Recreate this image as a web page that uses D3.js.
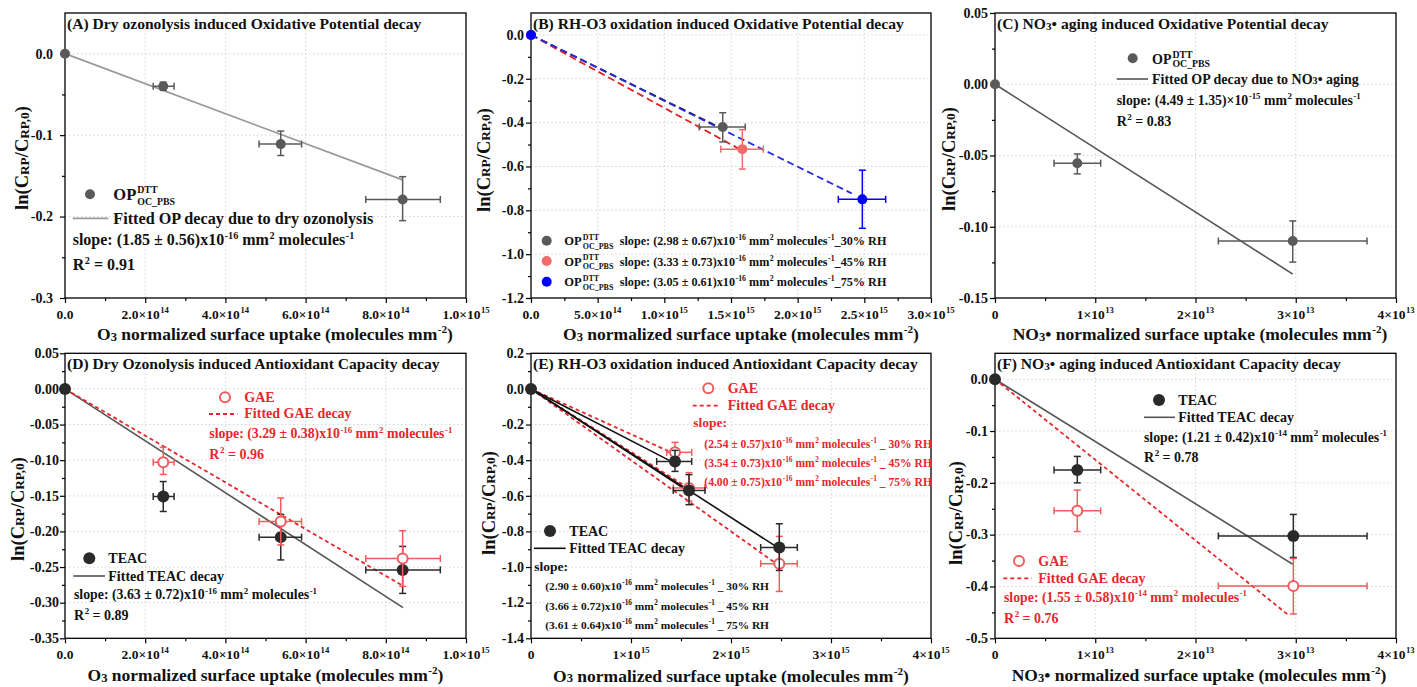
<!DOCTYPE html>
<html><head><meta charset="utf-8">
<script src="https://cdn.jsdelivr.net/npm/d3@7"></script>
<style>
body{margin:0;background:#fff}
text{font-family:'Liberation Serif','Times New Roman',serif;font-weight:bold}
</style>
</head><body>
<svg id="chart" width="1417" height="687"></svg>
<script>
// ---------------- DATA ----------------
// Panel A: dry ozonolysis, OP (DTT)
const A_x    = [0, 2.45e14, 5.38e14, 8.42e14];
const A_y    = [0, -0.040, -0.111, -0.179];
const A_xlo  = [null, 2.20e14, 4.84e14, 7.50e14];
const A_xhi  = [null, 2.72e14, 5.90e14, 9.36e14];
const A_ylo  = [null, -0.045, -0.125, -0.205];
const A_yhi  = [null, -0.035, -0.095, -0.151];
const A_fitEndX = [8.42e14];
const A_fitEndY = [-0.155];
const A_xTicks = [0, 2e14, 4e14, 6e14, 8e14, 1e15];
const A_xTickLabels = ["0.0", "2.0×10^{14}", "4.0×10^{14}", "6.0×10^{14}", "8.0×10^{14}", "1.0×10^{15}"];
const A_yTicks = [-0.3, -0.2, -0.1, 0.0];
const A_yTickLabels = ["-0.3", "-0.2", "-0.1", "0.0"];

// Panel B: RH-O3 oxidation, OP (DTT) at 30/45/75 % RH
const B_x30 = [0, 1.438e15]; const B_y30 = [0, -0.420];
const B_xlo30 = [null, 1.262e15]; const B_xhi30 = [null, 1.607e15];
const B_ylo30 = [null, -0.488]; const B_yhi30 = [null, -0.355];
const B_x45 = [0, 1.585e15]; const B_y45 = [0, -0.521];
const B_xlo45 = [null, 1.423e15]; const B_xhi45 = [null, 1.742e15];
const B_ylo45 = [null, -0.612]; const B_yhi45 = [null, -0.432];
const B_x75 = [0, 2.485e15]; const B_y75 = [0, -0.750];
const B_xlo75 = [null, 2.305e15]; const B_xhi75 = [null, 2.660e15];
const B_ylo75 = [null, -0.882]; const B_yhi75 = [null, -0.617];
const B_fitEndX = [1.438e15, 1.585e15, 2.405e15];
const B_fitEndY = [-0.429, -0.528, -0.723];
const B_xTicks = [0, 5e14, 1e15, 1.5e15, 2e15, 2.5e15, 3e15];
const B_xTickLabels = ["0.0", "5.0×10^{14}", "1.0×10^{15}", "1.5×10^{15}", "2.0×10^{15}", "2.5×10^{15}", "3.0×10^{15}"];
const B_yTicks = [-1.2, -1.0, -0.8, -0.6, -0.4, -0.2, 0.0];
const B_yTickLabels = ["-1.2", "-1.0", "-0.8", "-0.6", "-0.4", "-0.2", "0.0"];

// Panel C: NO3 aging, OP (DTT)
const C_x   = [0, 8.21e12, 2.97e13];
const C_y   = [0, -0.0554, -0.110];
const C_xlo = [null, 5.89e12, 2.228e13];
const C_xhi = [null, 1.054e13, 3.711e13];
const C_ylo = [null, -0.0629, -0.1248];
const C_yhi = [null, -0.0489, -0.0959];
const C_fitEndX = [2.97e13];
const C_fitEndY = [-0.1332];
const C_xTicks = [0, 1e13, 2e13, 3e13, 4e13];
const C_xTickLabels = ["0", "1×10^{13}", "2×10^{13}", "3×10^{13}", "4×10^{13}"];
const C_yTicks = [-0.15, -0.10, -0.05, 0.00, 0.05];
const C_yTickLabels = ["-0.15", "-0.10", "-0.05", "0.00", "0.05"];

// Panel D: dry ozonolysis, antioxidant capacity
const D_teacX = [0, 2.45e14, 5.38e14, 8.42e14];
const D_teacY = [0, -0.151, -0.208, -0.254];
const D_teacYlo = [null, -0.172, -0.240, -0.287];
const D_teacYhi = [null, -0.130, -0.176, -0.221];
const D_gaeX = [2.45e14, 5.38e14, 8.42e14];
const D_gaeY = [-0.103, -0.186, -0.238];
const D_gaeYlo = [-0.120, -0.219, -0.277];
const D_gaeYhi = [-0.082, -0.153, -0.199];
const D_xlo = [null, 2.20e14, 4.84e14, 7.50e14];
const D_xhi = [null, 2.72e14, 5.90e14, 9.36e14];
const D_teacFitEndX = [8.43e14]; const D_teacFitEndY = [-0.307];
const D_gaeFitEndX  = [8.43e14]; const D_gaeFitEndY  = [-0.2765];
const D_yTicks = [-0.35, -0.30, -0.25, -0.20, -0.15, -0.10, -0.05, 0.00, 0.05];
const D_yTickLabels = ["-0.35", "-0.30", "-0.25", "-0.20", "-0.15", "-0.10", "-0.05", "0.00", "0.05"];

// Panel E: RH-O3 oxidation, antioxidant capacity
const E_teacX = [0, 1.44e15, 1.58e15, 2.483e15];
const E_teacY = [0, -0.407, -0.570, -0.890];
const E_teacYlo = [null, -0.463, -0.650, -1.019];
const E_teacYhi = [null, -0.345, -0.481, -0.757];
const E_teacXlo = [null, 1.257e15, 1.423e15, 2.297e15];
const E_teacXhi = [null, 1.607e15, 1.740e15, 2.663e15];
const E_gaeX = [1.44e15, 1.58e15, 2.483e15];
const E_gaeY = [-0.356, -0.556, -0.981];
const E_gaeYlo = [-0.415, -0.630, -1.137];
const E_gaeYhi = [-0.300, -0.470, -0.828];
const E_gaeXlo = [1.357e15, 1.423e15, 2.297e15];
const E_gaeXhi = [1.607e15, 1.740e15, 2.663e15];
const E_teacFitEndX = [1.44e15, 1.58e15, 2.48e15];
const E_teacFitEndY = [-0.418, -0.578, -0.895];
const E_gaeFitEndX  = [1.44e15, 1.58e15, 2.48e15];
const E_gaeFitEndY  = [-0.366, -0.559, -0.992];
const E_xTicks = [0, 1e15, 2e15, 3e15, 4e15];
const E_xTickLabels = ["0", "1×10^{15}", "2×10^{15}", "3×10^{15}", "4×10^{15}"];
const E_yTicks = [-1.4, -1.2, -1.0, -0.8, -0.6, -0.4, -0.2, 0.0, 0.2];
const E_yTickLabels = ["-1.4", "-1.2", "-1.0", "-0.8", "-0.6", "-0.4", "-0.2", "0.0", "0.2"];

// Panel F: NO3 aging, antioxidant capacity
const F_teacX = [0, 8.21e12, 2.976e13];
const F_teacY = [0, -0.175, -0.3025];
const F_teacYlo = [null, -0.200, -0.344];
const F_teacYhi = [null, -0.149, -0.261];
const F_gaeX = [8.21e12, 2.976e13];
const F_gaeY = [-0.254, -0.399];
const F_gaeYlo = [-0.294, -0.453];
const F_gaeYhi = [-0.214, -0.346];
const F_xlo = [null, 5.89e12, 2.228e13];
const F_xhi = [null, 1.054e13, 3.711e13];
const F_teacFitEndX = [2.97e13];  const F_teacFitEndY = [-0.357];
const F_gaeFitEndX  = [2.926e13]; const F_gaeFitEndY  = [-0.455];
const F_yTicks = [-0.5, -0.4, -0.3, -0.2, -0.1, 0.0];
const F_yTickLabels = ["-0.5", "-0.4", "-0.3", "-0.2", "-0.1", "0.0"];

// ---------------- HELPERS ----------------
const svg = d3.select('#chart');
svg.append('rect').attr('width', 1417).attr('height', 687).attr('fill', '#fff');

function parseRich(s) {
  const parts = []; let buf = ''; let i = 0;
  const flush = () => { if (buf) { parts.push({type: 'n', t: buf}); buf = ''; } };
  while (i < s.length) {
    const c = s[i];
    if ((c === '^' || c === '_' || c === '~') && s[i + 1] === '{') {
      const j = s.indexOf('}', i + 2);
      flush();
      parts.push({type: c === '^' ? 'sup' : c === '_' ? 'sub' : 'small', t: s.slice(i + 2, j)});
      i = j + 1;
    } else { buf += c; i++; }
  }
  flush();
  const out = [];
  for (let k = 0; k < parts.length; k++) {
    if (parts[k].type === 'sup' && parts[k + 1] && parts[k + 1].type === 'sub') {
      out.push({type: 'stack', sup: parts[k].t, sub: parts[k + 1].t}); k++;
    } else out.push(parts[k]);
  }
  return out;
}

function rich(parent, x, y, s, opt) {
  const size = opt.size, color = opt.color || '#111';
  const sr = opt.stack || 0.6;
  const g = parent.append('g');
  let cx = 0;
  const add = (t, dx, dy, fs) => {
    const el = g.append('text').attr('x', cx + dx).attr('y', dy).attr('font-size', fs)
      .attr('fill', color).attr('xml:space', 'preserve').style('white-space', 'pre').text(t);
    return el.node().getComputedTextLength();
  };
  for (const p of parseRich(s)) {
    if (p.type === 'n') cx += add(p.t, 0, 0, size);
    else if (p.type === 'sup') cx += add(p.t, 0.5, -size * 0.4, size * 0.64) + 0.5;
    else if (p.type === 'sub') cx += add(p.t, 0.5, size * 0.22, size * 0.64) + 0.5;
    else if (p.type === 'small') cx += add(p.t, 0, size * 0.05, size * 0.72);
    else {
      const w1 = add(p.sup, 1, -size * 0.42, size * sr);
      const w2 = add(p.sub, 1, size * 0.28, size * sr);
      cx += Math.max(w1, w2) + 1;
    }
  }
  let ox = 0;
  if (opt.anchor === 'middle') ox = -cx / 2; else if (opt.anchor === 'end') ox = -cx;
  const rot = opt.rotate ? ` rotate(${opt.rotate})` : '';
  g.attr('transform', `translate(${x},${y})${rot} translate(${ox},0)`);
  return cx;
}

const mid = arr => arr.slice(1).map((v, i) => (v + arr[i]) / 2);
const lineGen = d3.line();

function drawPanel(p) {
  const x = d3.scaleLinear().domain(p.xDomain).range([p.l, p.r]);
  const y = d3.scaleLinear().domain(p.yDomain).range([p.b, p.t]);
  const g = svg.append('g');
  // grid
  g.selectAll(null).data(p.xTicks.filter(v => v > p.xDomain[0] && v < p.xDomain[1])).join('line')
    .attr('x1', d => x(d)).attr('x2', d => x(d)).attr('y1', p.t).attr('y2', p.b)
    .attr('stroke', '#d4d4d4').attr('stroke-width', 1).attr('stroke-dasharray', '1.5,2.5');
  g.selectAll(null).data(p.yTicks.filter(v => v > p.yDomain[0] + 1e-9 && v < p.yDomain[1] - 1e-9)).join('line')
    .attr('y1', d => y(d)).attr('y2', d => y(d)).attr('x1', p.l).attr('x2', p.r)
    .attr('stroke', '#d4d4d4').attr('stroke-width', 1).attr('stroke-dasharray', '1.5,2.5');
  // axes ticks
  const styleAxis = a => { a.select('.domain').remove(); a.selectAll('line').attr('stroke', '#000').attr('stroke-width', 1.2); };
  g.append('g').attr('transform', `translate(0,${p.b})`)
    .call(d3.axisBottom(x).tickValues(p.xTicks).tickSize(5).tickFormat('')).call(styleAxis);
  g.append('g').attr('transform', `translate(0,${p.b})`)
    .call(d3.axisBottom(x).tickValues(mid(p.xTicks)).tickSize(3).tickFormat('')).call(styleAxis);
  g.append('g').attr('transform', `translate(${p.l},0)`)
    .call(d3.axisLeft(y).tickValues(p.yTicks).tickSize(5).tickFormat('')).call(styleAxis);
  g.append('g').attr('transform', `translate(${p.l},0)`)
    .call(d3.axisLeft(y).tickValues(mid(p.yTicks)).tickSize(3).tickFormat('')).call(styleAxis);
  // frame
  g.append('rect').attr('x', p.l).attr('y', p.t).attr('width', p.r - p.l).attr('height', p.b - p.t)
    .attr('fill', 'none').attr('stroke', '#000').attr('stroke-width', 1.3);
  // tick labels
  p.xTicks.forEach((v, i) => rich(g, x(v), p.xTickBase, p.xTickLabels[i], {size: 13.5, anchor: 'middle'}));
  p.yTicks.forEach((v, i) => { if (p.yTickLabels[i]) rich(g, p.l - p.yGap, y(v) + 4.8, p.yTickLabels[i], {size: 14, anchor: 'end'}); });
  // fit lines
  p.fits.forEach(f => {
    f.endX.forEach((ex, i) => {
      g.append('path').attr('d', lineGen([[x(0), y(0)], [x(ex), y(f.endY[i])]]))
        .attr('fill', 'none').attr('stroke', f.color).attr('stroke-width', f.width || 1.6)
        .attr('stroke-dasharray', f.dash || null);
    });
  });
  // series
  p.series.forEach(s => {
    const eg = g.append('g').attr('stroke', s.ecolor || s.color).attr('stroke-width', 1.5).attr('fill', 'none');
    s.x.forEach((xv, i) => {
      const cy = y(s.y[i]), cx = x(xv);
      if (s.xlo && s.xlo[i] != null) {
        const a = x(s.xlo[i]), b = x(s.xhi[i]);
        eg.append('line').attr('x1', a).attr('x2', b).attr('y1', cy).attr('y2', cy);
        eg.append('line').attr('x1', a).attr('x2', a).attr('y1', cy - 3.5).attr('y2', cy + 3.5);
        eg.append('line').attr('x1', b).attr('x2', b).attr('y1', cy - 3.5).attr('y2', cy + 3.5);
      }
      if (s.ylo && s.ylo[i] != null) {
        const a = y(s.ylo[i]), b = y(s.yhi[i]);
        eg.append('line').attr('x1', cx).attr('x2', cx).attr('y1', a).attr('y2', b);
        eg.append('line').attr('x1', cx - 3.5).attr('x2', cx + 3.5).attr('y1', a).attr('y2', a);
        eg.append('line').attr('x1', cx - 3.5).attr('x2', cx + 3.5).attr('y1', b).attr('y2', b);
      }
    });
    g.selectAll(null).data(s.x.map((xv, i) => [xv, s.y[i]])).join('circle')
      .attr('cx', d => x(d[0])).attr('cy', d => y(d[1])).attr('r', s.r || 5)
      .attr('fill', s.open ? '#fff' : s.color)
      .attr('stroke', s.open ? s.color : 'none').attr('stroke-width', s.open ? 2 : 0);
  });
  // title and labels
  rich(g, p.l + 2, p.t + 16, p.title, {size: 15.6});
  rich(g, p.xLabelX, p.xLabelBase, p.xLabel, {size: 17.5, anchor: 'middle'});
  rich(g, p.yLabelX, p.yLabelY, "ln(C~{RP}/C~{RP,0})", {size: 18.5, anchor: 'middle', rotate: -90});
  return {x, y, g};
}

const O3LABEL = "O~{3} normalized surface uptake (molecules mm^{-2})";
const NO3LABEL = "NO~{3}• normalized surface uptake (molecules mm^{-2})";
const GRAY = '#5a5a5a', DARK = '#2a2a2a', RED = '#e8262b', LRED = '#f25c5c', BLUE = '#0000ff';
const OPS = "OP^{DTT}_{OC_PBS}";

// ---------------- PANELS ----------------
drawPanel({
  l: 65, r: 466, t: 13, b: 298, xDomain: [0, 1e15], yDomain: [-0.3, 0.05],
  xTicks: A_xTicks, xTickLabels: A_xTickLabels, yTicks: A_yTicks, yTickLabels: A_yTickLabels,
  xTickBase: 318.5, yGap: 12, title: "(A) Dry ozonolysis induced Oxidative Potential decay",
  xLabel: O3LABEL, xLabelX: 275, xLabelBase: 340, yLabelX: 28, yLabelY: 158,
  fits: [{endX: A_fitEndX, endY: A_fitEndY, color: '#9a9a9a', width: 1.8}],
  series: [{x: A_x, y: A_y, xlo: A_xlo, xhi: A_xhi, ylo: A_ylo, yhi: A_yhi, color: GRAY, r: 5}]
});
drawPanel({
  l: 531, r: 931, t: 13, b: 298, xDomain: [0, 3e15], yDomain: [-1.2, 0.1],
  xTicks: B_xTicks, xTickLabels: B_xTickLabels, yTicks: B_yTicks, yTickLabels: B_yTickLabels,
  xTickBase: 318.5, yGap: 7, title: "(B) RH-O3 oxidation induced Oxidative Potential decay",
  xLabel: O3LABEL, xLabelX: 741, xLabelBase: 340, yLabelX: 489.5, yLabelY: 160,
  fits: [
    {endX: [B_fitEndX[0]], endY: [B_fitEndY[0]], color: '#111', dash: '7,4', width: 1.8},
    {endX: [B_fitEndX[1]], endY: [B_fitEndY[1]], color: '#e02020', dash: '7,4', width: 1.8},
    {endX: [B_fitEndX[2]], endY: [B_fitEndY[2]], color: '#2a2ae0', dash: '7,4', width: 1.8}],
  series: [
    {x: B_x30, y: B_y30, xlo: B_xlo30, xhi: B_xhi30, ylo: B_ylo30, yhi: B_yhi30, color: GRAY, r: 5},
    {x: B_x45, y: B_y45, xlo: B_xlo45, xhi: B_xhi45, ylo: B_ylo45, yhi: B_yhi45, color: '#f26a6a', r: 5},
    {x: B_x75, y: B_y75, xlo: B_xlo75, xhi: B_xhi75, ylo: B_ylo75, yhi: B_yhi75, color: BLUE, r: 5}]
});
drawPanel({
  l: 995, r: 1396, t: 13, b: 298, xDomain: [0, 4e13], yDomain: [-0.15, 0.05],
  xTicks: C_xTicks, xTickLabels: C_xTickLabels, yTicks: C_yTicks, yTickLabels: C_yTickLabels,
  xTickBase: 318.5, yGap: 7, title: "(C) NO~{3}• aging induced Oxidative Potential decay",
  xLabel: NO3LABEL, xLabelX: 1200, xLabelBase: 340, yLabelX: 954.5, yLabelY: 159,
  fits: [{endX: C_fitEndX, endY: C_fitEndY, color: '#555', width: 1.6}],
  series: [{x: C_x, y: C_y, xlo: C_xlo, xhi: C_xhi, ylo: C_ylo, yhi: C_yhi, color: GRAY, r: 5}]
});
drawPanel({
  l: 65, r: 466, t: 353.3, b: 638.3, xDomain: [0, 1e15], yDomain: [-0.35, 0.05],
  xTicks: A_xTicks, xTickLabels: A_xTickLabels, yTicks: D_yTicks, yTickLabels: D_yTickLabels,
  xTickBase: 658.5, yGap: 6, title: "(D) Dry Ozonolysis induced Antioxidant Capacity decay",
  xLabel: O3LABEL, xLabelX: 265.5, xLabelBase: 681, yLabelX: 23.5, yLabelY: 509,
  fits: [{endX: D_teacFitEndX, endY: D_teacFitEndY, color: '#555', width: 1.6},
         {endX: D_gaeFitEndX, endY: D_gaeFitEndY, color: RED, dash: '4,3', width: 1.8}],
  series: [
    {x: D_teacX, y: D_teacY, xlo: D_xlo, xhi: D_xhi, ylo: D_teacYlo, yhi: D_teacYhi, color: DARK, r: 6},
    {x: D_gaeX, y: D_gaeY, xlo: D_xlo.slice(1), xhi: D_xhi.slice(1), ylo: D_gaeYlo, yhi: D_gaeYhi, color: LRED, open: true, r: 5}]
});
drawPanel({
  l: 531, r: 931, t: 353.3, b: 638.3, xDomain: [0, 4e15], yDomain: [-1.4, 0.2],
  xTicks: E_xTicks, xTickLabels: E_xTickLabels, yTicks: E_yTicks, yTickLabels: E_yTickLabels,
  xTickBase: 658.5, yGap: 7, title: "(E) RH-O3 oxidation induced Antioxidant Capacity decay",
  xLabel: O3LABEL, xLabelX: 731, xLabelBase: 681.5, yLabelX: 494.5, yLabelY: 503,
  fits: [{endX: E_gaeFitEndX, endY: E_gaeFitEndY, color: RED, dash: '4,3', width: 1.8},
         {endX: E_teacFitEndX, endY: E_teacFitEndY, color: '#111', width: 1.6}],
  series: [
    {x: E_gaeX, y: E_gaeY, xlo: E_gaeXlo, xhi: E_gaeXhi, ylo: E_gaeYlo, yhi: E_gaeYhi, color: LRED, open: true, r: 5},
    {x: E_teacX, y: E_teacY, xlo: E_teacXlo, xhi: E_teacXhi, ylo: E_teacYlo, yhi: E_teacYhi, color: DARK, r: 6}]
});
drawPanel({
  l: 995, r: 1396, t: 353.3, b: 638.3, xDomain: [0, 4e13], yDomain: [-0.5, 0.05],
  xTicks: C_xTicks, xTickLabels: C_xTickLabels, yTicks: F_yTicks, yTickLabels: F_yTickLabels,
  xTickBase: 658.5, yGap: 7, title: "(F) NO~{3}• aging induced Antioxidant Capacity decay",
  xLabel: NO3LABEL, xLabelX: 1199, xLabelBase: 681, yLabelX: 962, yLabelY: 513,
  fits: [{endX: F_teacFitEndX, endY: F_teacFitEndY, color: '#555', width: 1.6},
         {endX: F_gaeFitEndX, endY: F_gaeFitEndY, color: RED, dash: '4,3', width: 1.8}],
  series: [
    {x: F_teacX, y: F_teacY, xlo: F_xlo, xhi: F_xhi, ylo: F_teacYlo, yhi: F_teacYhi, color: DARK, r: 6},
    {x: F_gaeX, y: F_gaeY, xlo: F_xlo.slice(1), xhi: F_xhi.slice(1), ylo: F_gaeYlo, yhi: F_gaeYhi, color: LRED, open: true, r: 5}]
});

// ---------------- LEGENDS ----------------
const L = svg.append('g');
function dot(x, y, color, r, open) {
  L.append('circle').attr('cx', x).attr('cy', y).attr('r', r)
    .attr('fill', open ? '#fff' : color).attr('stroke', open ? color : 'none').attr('stroke-width', open ? 2 : 0);
}
function seg(x1, x2, y, color, dash, w) {
  L.append('line').attr('x1', x1).attr('x2', x2).attr('y1', y).attr('y2', y)
    .attr('stroke', color).attr('stroke-width', w || 1.6).attr('stroke-dasharray', dash || null);
}
// A
dot(90, 194.3, GRAY, 5);
rich(L, 113.3, 200, OPS, {size: 16.5, stack: 0.6});
seg(72.7, 108.3, 218.3, '#9a9a9a', null, 1.8);
rich(L, 113.3, 223.5, "Fitted OP decay due to dry ozonolysis", {size: 16.2});
rich(L, 72.7, 245, "slope: (1.85 ± 0.56)x10^{-16} mm^{2} molecules^{-1}", {size: 16});
rich(L, 72.7, 270, "R^{2} = 0.91", {size: 16});
// B
dot(546.7, 240.7, GRAY, 5); dot(546.7, 261, '#f26a6a', 5); dot(546.7, 281.7, BLUE, 5);
const B_legendTexts = [
  "slope: (2.98 ± 0.67)x10^{-16} mm^{2} molecules^{-1}_30% RH",
  "slope: (3.33 ± 0.73)x10^{-16} mm^{2} molecules^{-1}_45% RH",
  "slope: (3.05 ± 0.61)x10^{-16} mm^{2} molecules^{-1}_75% RH"];
[245, 265.5, 286].forEach((yb, i) => {
  rich(L, 564.3, yb, OPS, {size: 12.5, stack: 0.64});
  rich(L, 619.7, yb, B_legendTexts[i], {size: 12.2});
});
// C
dot(1132.7, 58.3, GRAY, 5);
rich(L, 1152, 63.5, OPS, {size: 14, stack: 0.7});
seg(1116.7, 1148, 79, '#555');
rich(L, 1152, 83.5, "Fitted OP decay due to NO~{3}• aging", {size: 14});
rich(L, 1116.7, 104.5, "slope: (4.49 ± 1.35)×10^{-15} mm^{2} molecules^{-1}", {size: 13.8});
rich(L, 1116.7, 125.7, "R^{2} = 0.83", {size: 14});
// D
dot(225, 397.3, LRED, 5, true);
rich(L, 244.3, 401.7, "GAE", {size: 14, color: RED});
seg(209, 237.3, 414, RED, '4,3', 1.8);
rich(L, 244.3, 418.3, "Fitted GAE decay", {size: 14, color: RED});
rich(L, 209.3, 438.3, "slope: (3.29 ± 0.38)x10^{-16} mm^{2} molecules^{-1}", {size: 13.8, color: RED});
rich(L, 209.3, 459, "R^{2} = 0.96", {size: 14, color: RED});
dot(89.3, 558.3, DARK, 6);
rich(L, 108.3, 562.7, "TEAC", {size: 14});
seg(73.3, 105, 576, '#555');
rich(L, 108.3, 580.7, "Fitted TEAC decay", {size: 14});
rich(L, 74, 599.3, "slope: (3.63 ± 0.72)x10^{-16} mm^{2} molecules^{-1}", {size: 13.8});
rich(L, 74, 620, "R^{2} = 0.89", {size: 14});
// E
dot(708.3, 388.3, LRED, 5, true);
rich(L, 727.7, 392.7, "GAE", {size: 14, color: RED});
seg(692.7, 720.7, 405.7, RED, '4,3', 1.8);
rich(L, 727.7, 410, "Fitted GAE decay", {size: 14, color: RED});
rich(L, 693.3, 427.3, "slope:", {size: 13.5, color: RED});
rich(L, 704.3, 447.5, "(2.54 ± 0.57)x10^{-16} mm^{2} molecules^{-1} _ 30% RH", {size: 11.6, color: RED});
rich(L, 704.3, 466.5, "(3.54 ± 0.73)x10^{-16} mm^{2} molecules^{-1} _ 45% RH", {size: 11.6, color: RED});
rich(L, 704.3, 486, "(4.00 ± 0.75)x10^{-16} mm^{2} molecules^{-1} _ 75% RH", {size: 11.6, color: RED});
dot(550, 531, DARK, 6);
rich(L, 569.3, 535.5, "TEAC", {size: 14});
seg(534, 565.7, 548.3, '#111');
rich(L, 569.3, 553, "Fitted TEAC decay", {size: 14});
rich(L, 534.3, 571, "slope:", {size: 13.5});
rich(L, 545.3, 590, "(2.90 ± 0.60)x10^{-16} mm^{2} molecules^{-1} _ 30% RH", {size: 11.4});
rich(L, 545.3, 609.5, "(3.66 ± 0.72)x10^{-16} mm^{2} molecules^{-1} _ 45% RH", {size: 11.4});
rich(L, 545.3, 628.5, "(3.61 ± 0.64)x10^{-16} mm^{2} molecules^{-1} _ 75% RH", {size: 11.4});
// F
dot(1159, 400, DARK, 6);
rich(L, 1178.3, 404.5, "TEAC", {size: 14});
seg(1144, 1175, 417.3, '#555');
rich(L, 1178.3, 422, "Fitted TEAC decay", {size: 14});
rich(L, 1144, 441.7, "slope: (1.21 ± 0.42)x10^{-14} mm^{2} molecules^{-1}", {size: 13.8});
rich(L, 1144, 462, "R^{2} = 0.78", {size: 14});
dot(1019, 561, LRED, 5, true);
rich(L, 1038.3, 565.5, "GAE", {size: 14, color: RED});
seg(1003.3, 1031.7, 578.3, RED, '4,3', 1.8);
rich(L, 1038.3, 583, "Fitted GAE decay", {size: 14, color: RED});
rich(L, 1004, 602, "slope: (1.55 ± 0.58)x10^{-14} mm^{2} molecules^{-1}", {size: 13.8, color: RED});
rich(L, 1004, 622.5, "R^{2} = 0.76", {size: 14, color: RED});
</script>
</body></html>
